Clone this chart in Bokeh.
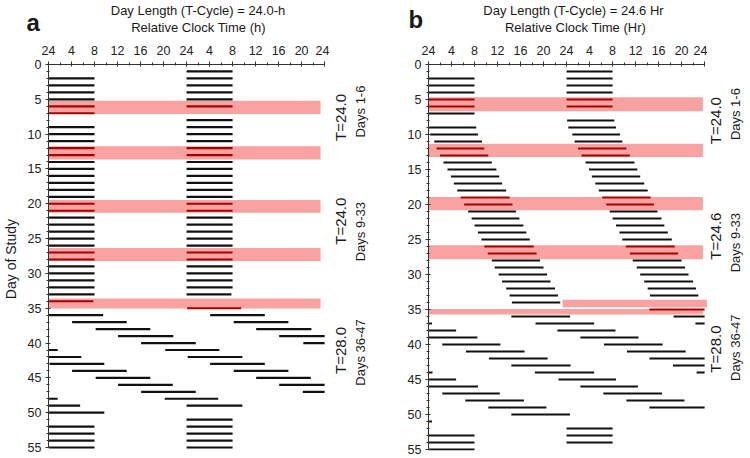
import numpy as np
from bokeh.plotting import figure
from bokeh.models import Range1d, FixedTicker, Label, ColumnDataSource
from bokeh.layouts import row, column
from bokeh.embed import file_html
from bokeh.resources import INLINE

# ---------------- data ----------------
x_tick_hours = [0, 4, 8, 12, 16, 20, 24, 28, 32, 36, 40, 44, 48]
x_tick_labels = ["24", "4", "8", "12", "16", "20", "24", "4", "8", "12", "16", "20", "24"]
y_tick_days = [0, 5, 10, 15, 20, 25, 30, 35, 40, 45, 50, 55]

# Panel a: sleep episodes (day of study, sleep onset h, wake h; relative clock time)
a_day = [2, 3, 4, 5, 6, 7,
         9, 10, 11, 12, 13, 14, 15, 16, 17, 18, 19, 20, 21, 22, 23, 24, 25, 26, 27, 28, 29, 30, 31, 32, 33, 34,
         36, 37, 38, 39, 40, 41, 43, 44, 45, 46, 47, 48, 50,
         52, 53, 54, 55, 56]
a_on = [0, 0, 0, 0, 0, 0,
        0, 0, 0, 0, 0, 0, 0, 0, 0, 0, 0, 0, 0, 0, 0, 0, 0, 0, 0, 0, 0, 0, 0, 0, 0, 0,
        0.1, 4.1, 8.2, 12.1, 16.1, 20.3, 0.2, 4.1, 8.2, 12.1, 16.1, 20.2, 0.0,
        0, 0, 0, 0, 0]
a_off = [8, 8, 8, 8, 8, 8,
         8, 8, 8, 8, 8, 8, 8, 8, 8, 8, 8, 8, 8, 8, 8, 8, 8, 8, 8, 8, 8, 8, 8, 8, 8, 7.8,
         9.5, 13.6, 17.7, 21.7, 25.6, 29.7, 9.7, 13.6, 17.7, 21.6, 25.6, 29.5, 9.7,
         8, 8, 8, 8, 8]

# Panel a highlighted (red) bands: day range and clock-time range
a_band_top = [5.2, 11.75, 19.45, 26.35, 33.6]
a_band_bottom = [7.1, 13.65, 21.3, 28.2, 35.05]
a_band_from = [0, 0, 0, 0, 0]
a_band_to = [47.3, 47.3, 47.3, 47.3, 47.3]

# Panel b: sleep episodes
b_day = [2, 3, 4, 5, 6, 7,
         9, 10, 11, 12, 13, 14, 15, 16, 17, 18, 19, 20, 21, 22, 23, 24, 25, 26, 27, 28, 29, 30, 31, 32, 33, 34,
         36, 37, 38, 40, 41, 42, 43, 44, 45, 47, 48, 49, 50,
         53, 54, 55]
b_on = [0, 0, 0, 0, 0, 0,
        0.1, 0.3, 1.0, 1.4, 2.0, 2.6, 3.3, 3.9, 4.4, 5.0, 5.6, 6.2, 6.9, 7.5, 8.0, 8.6, 9.2, 9.7, 10.3, 11.0,
        11.5, 12.2, 12.8, 13.5, 14.1, 14.5,
        14.4, 18.6, 22.4, 2.4, 6.5, 10.5, 14.4, 18.5, 22.6, 2.4, 6.4, 10.4, 14.4,
        0, 0, 0]
b_off = [8, 8, 8, 8, 8, 8,
         8.3, 8.6, 9.3, 9.7, 10.4, 11.0, 11.8, 12.3, 12.8, 13.5, 14.1, 14.6, 15.2, 15.8, 16.5, 17.0, 17.6, 18.3,
         18.8, 19.4, 20.0, 20.6, 21.2, 22.0, 22.5, 22.9,
         24.6, 28.8, 32.5, 12.5, 16.7, 20.7, 24.7, 28.8, 32.6, 12.4, 16.6, 20.5, 24.6,
         8, 8, 8]

b_band_top = [4.67, 11.32, 18.92, 25.82, 33.62, 34.92]
b_band_bottom = [6.67, 13.22, 20.82, 27.82, 34.67, 35.72]
b_band_from = [0, 0, 0, 0, 23.3, 0]
b_band_to = [47.7, 47.7, 47.7, 47.7, 48.4, 47.7]

# condition labels (right side of each panel)
a_cycle_labels = ["T=24.0", "T=24.0", "T=28.0"]
a_span_labels = ["Days 1-6", "Days 9-33", "Days 36-47"]
b_cycle_labels = ["T=24.0", "T=24.6", "T=28.0"]
b_span_labels = ["Days 1-6", "Days 9-33", "Days 36-47"]

FONT = "Liberation Sans"
TXT = "#1a1a1a"
R = np.pi / 2
H = 422
PX_PER_DAY = 7.0


def double_plot(days, on, off, last_row):
    """Double-plotted raster: row r spans day r 0h .. day r+1 24h."""
    rows, x0, x1 = [], [], []
    for d, s, e in zip(days, on, off):
        t0, t1 = 24 * d + s, 24 * d + e
        for r in range(d - 1, d + 2):
            if r < 1 or r > last_row:
                continue
            lo, hi = max(t0, 24 * r), min(t1, 24 * r + 48)
            if hi - lo > 0.05:
                rows.append(r)
                x0.append(lo - 24 * r)
                x1.append(hi - 24 * r)
    return rows, x0, x1


def blank(width, height, y_range, b_top=0, b_bottom=0):
    f = figure(width=width, height=height, x_range=Range1d(0, width), y_range=y_range,
               toolbar_location=None, output_backend="svg", title=None,
               x_axis_type=None, y_axis_type=None, min_border_left=0, min_border_right=0,
               min_border_top=b_top, min_border_bottom=b_bottom)
    f.outline_line_color = None
    f.xgrid.visible = False
    f.ygrid.visible = False
    return f


def add_text(f, txt, x, y, size, angle=0, style="normal", align="center", base="middle"):
    f.add_layout(Label(x=x, y=y, text=txt, angle=angle, text_font=FONT, text_font_size=size,
                       text_font_style=style, text_color=TXT, text_align=align,
                       text_baseline=base))


def make_panel(width, b_left, b_top, b_right, y_end, days, on, off,
               btop, bbot, bfrom, bto):
    p = figure(width=width, height=H, x_range=Range1d(0, 48.5), y_range=Range1d(y_end, 0),
               x_axis_location="above", toolbar_location=None, output_backend="svg",
               title=None, min_border_left=b_left, min_border_right=b_right,
               min_border_top=b_top, min_border_bottom=8)
    p.outline_line_color = None
    p.xgrid.visible = False
    p.ygrid.visible = False

    p.quad(left=bfrom, right=bto, top=btop, bottom=bbot,
           fill_color="#f8a2a2", line_color=None)

    rows, x0, x1 = double_plot(days, on, off, 55)
    colors = []
    for r, a, b in zip(rows, x0, x1):
        c = "#111111"
        for t, bt, f, to in zip(btop, bbot, bfrom, bto):
            if t <= r <= bt and b > f and a < to:
                c = "#a80000"
        colors.append(c)
    src = ColumnDataSource(dict(y=rows, x0=x0, x1=x1, c=colors))
    p.segment(x0="x0", x1="x1", y0="y", y1="y", source=src, line_color="c", line_width=2.2)

    xa = p.xaxis[0]
    xa.ticker = FixedTicker(ticks=x_tick_hours, minor_ticks=list(range(0, 49, 2)))
    xa.major_label_overrides = {h: l for h, l in zip(x_tick_hours, x_tick_labels)}
    xa.bounds = (0, 48)
    ya = p.yaxis[0]
    ya.ticker = FixedTicker(ticks=y_tick_days, minor_ticks=list(range(0, 56)))
    ya.bounds = (0, 55)
    for ax in (xa, ya):
        ax.axis_line_color = "#333333"
        ax.major_tick_line_color = "#333333"
        ax.minor_tick_line_color = "#333333"
        ax.major_label_text_font = FONT
        ax.major_label_text_font_size = "12.5px"
        ax.major_label_text_color = "#222222"
        ax.major_tick_in = 2
        ax.major_tick_out = 3
        ax.minor_tick_in = 1
        ax.minor_tick_out = 2
    xa.major_label_standoff = 7
    ya.major_label_standoff = 4
    return p


A_TOP, B_TOP = 26, 28
A_END, B_END = 55.43, 55.14


def strip(width, top_px, y_end):
    # same day scale as the panel, but the frame also covers the panel's top border
    return blank(width, H, Range1d(y_end, -top_px / PX_PER_DAY), 0, 8)


# left strip: y-axis title
left_a = strip(20, A_TOP, A_END)
add_text(left_a, "Day of Study", 10, 26.1, "14px", angle=R)

pa = make_panel(309, 28, A_TOP, 2, A_END, a_day, a_on, a_off,
                a_band_top, a_band_bottom, a_band_from, a_band_to)

side_a = strip(43, A_TOP, A_END)
for txt, yy in zip(a_cycle_labels, [4.4, 20.3, 40.1]):
    add_text(side_a, txt, 11, yy, "15px", angle=R)
for txt, yy in zip(a_span_labels, [3.5, 21.9, 40.4]):
    add_text(side_a, txt, 31, yy, "13px", angle=R)

pb = make_panel(335, 56, B_TOP, 0, B_END, b_day, b_on, b_off,
                b_band_top, b_band_bottom, b_band_from, b_band_to)

side_b = strip(41, B_TOP, B_END)
for txt, yy in zip(b_cycle_labels, [4.6, 22.3, 39.6]):
    add_text(side_b, txt, 8, yy, "15px", angle=R)
for txt, yy in zip(b_span_labels, [3.6, 23.3, 39.4]):
    add_text(side_b, txt, 28, yy, "13px", angle=R)

# header strip with panel letters and titles (pixel coordinates)
hdr = blank(748, 36, Range1d(36, 0))
add_text(hdr, "a", 26, 21.5, "24px", style="bold", align="left")
add_text(hdr, "Day Length (T-Cycle) = 24.0-h", 197.5, 10, "13px")
add_text(hdr, "Relative Clock Time (h)", 198, 26.7, "13px")
add_text(hdr, "b", 408, 18.5, "24px", style="bold", align="left")
add_text(hdr, "Day Length (T-Cycle) = 24.6 Hr", 573, 10, "13px")
add_text(hdr, "Relative Clock Time (Hr)", 575, 27, "13px")

layout = column(hdr, row(left_a, pa, side_a, pb, side_b))
open("out.html", "w").write(file_html(layout, INLINE))
